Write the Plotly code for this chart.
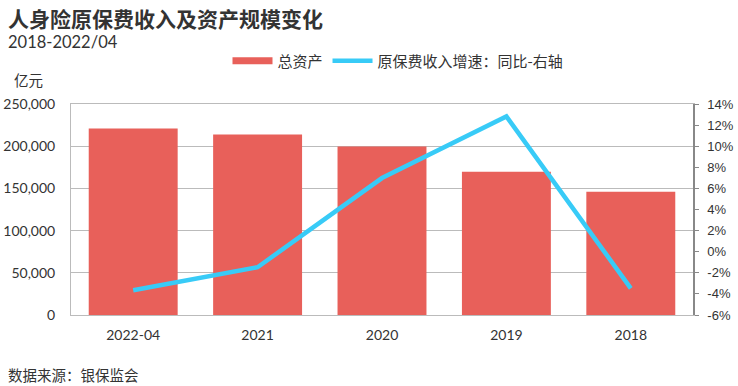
import plotly.graph_objects as go

categories = ["2022-04", "2021", "2020", "2019", "2018"]
total_assets = [220900, 213800, 199500, 169800, 146100]
premium_growth = [-3.66, -1.47, 6.98, 12.82, -3.47]

left_ticks = [0, 50000, 100000, 150000, 200000, 250000]
left_labels = ["0", "50,000", "100,000", "150,000", "200,000", "250,000"]
right_ticks = [-6, -4, -2, 0, 2, 4, 6, 8, 10, 12, 14]
right_labels = [f"{v}%" for v in right_ticks]

CJK = "Noto Sans CJK SC"
LATIN = "Lato, Noto Sans CJK SC"
BAR_COLOR = "#E8605A"
LINE_COLOR = "#38CBF7"

fig = go.Figure()
fig.add_trace(go.Bar(
    x=categories, y=total_assets, name="总资产",
    marker=dict(color=BAR_COLOR, line=dict(width=0)),
    yaxis="y", showlegend=False, legendgroup="assets",
))
# legend entry for bars drawn as a thick swatch, like the reference
fig.add_trace(go.Scatter(
    x=[categories[0]], y=[None], name="总资产", mode="lines",
    line=dict(color=BAR_COLOR, width=7), yaxis="y", legendgroup="assets",
    hoverinfo="skip",
))
fig.add_trace(go.Scatter(
    x=categories, y=premium_growth, name="原保费收入增速：同比-右轴",
    mode="lines", line=dict(color=LINE_COLOR, width=4.5),
    yaxis="y2",
))

W, H = 738, 386
pl, pr, pt, pb = 71, 45, 104, 71
pw, ph = W - pl - pr, H - pt - pb


def px(x):
    return (x - pl) / pw


def py(y):
    return (H - pb - y) / ph


fig.update_layout(
    width=W, height=H,
    margin=dict(l=pl, r=pr, t=pt, b=pb, autoexpand=False),
    paper_bgcolor="white", plot_bgcolor="white",
    bargap=0.285,
    showlegend=True,
    legend=dict(
        orientation="h", x=px(398), xanchor="center", y=py(61), yanchor="middle",
        font=dict(family=CJK, size=15, color="#333"),
        itemwidth=40, bgcolor="rgba(0,0,0,0)",
    ),
    xaxis=dict(
        type="category",
        showline=True, linecolor="#bbbbbb", linewidth=1, mirror=True,
        showgrid=False, ticks="", ticklabelstandoff=7,
        tickfont=dict(family=LATIN, size=14, color="#333"),
    ),
    yaxis=dict(
        range=[0, 250000], tickvals=left_ticks, ticktext=left_labels,
        showline=True, linecolor="#bbbbbb", linewidth=1,
        showgrid=True, gridcolor="#bbbbbb", gridwidth=1,
        ticks="", zeroline=False, ticklabelstandoff=12,
        tickfont=dict(family=LATIN, size=14, color="#333"),
    ),
    yaxis2=dict(
        range=[-6, 14], tickvals=right_ticks, ticktext=right_labels,
        overlaying="y", side="right",
        showline=True, linecolor="#888888", linewidth=1.5,
        ticks="outside", ticklen=4, tickcolor="#888888",
        showgrid=False, zeroline=False, ticklabelstandoff=6,
        tickfont=dict(family="Liberation Sans, Arial", size=13, color="#333"),
    ),
)

fig.add_annotation(text="<b>人身险原保费收入及资产规模变化</b>", x=px(6), y=py(18),
                   xref="paper", yref="paper", xanchor="left", yanchor="middle",
                   showarrow=False, font=dict(family=CJK, size=21, color="#333"))
fig.add_annotation(text="2018-2022/04", x=px(6), y=py(42),
                   xref="paper", yref="paper", xanchor="left", yanchor="middle",
                   showarrow=False, font=dict(family=LATIN, size=16.5, color="#333"))
fig.add_annotation(text="亿元", x=px(12), y=py(80),
                   xref="paper", yref="paper", xanchor="left", yanchor="middle",
                   showarrow=False, font=dict(family=CJK, size=14.5, color="#333"))
fig.add_annotation(text="数据来源：银保监会", x=px(6), y=py(374),
                   xref="paper", yref="paper", xanchor="left", yanchor="middle",
                   showarrow=False, font=dict(family=CJK, size=14.5, color="#333"))

fig.write_html("out.html", config={"displayModeBar": False},
               post_script="document.body.style.margin='0';")
